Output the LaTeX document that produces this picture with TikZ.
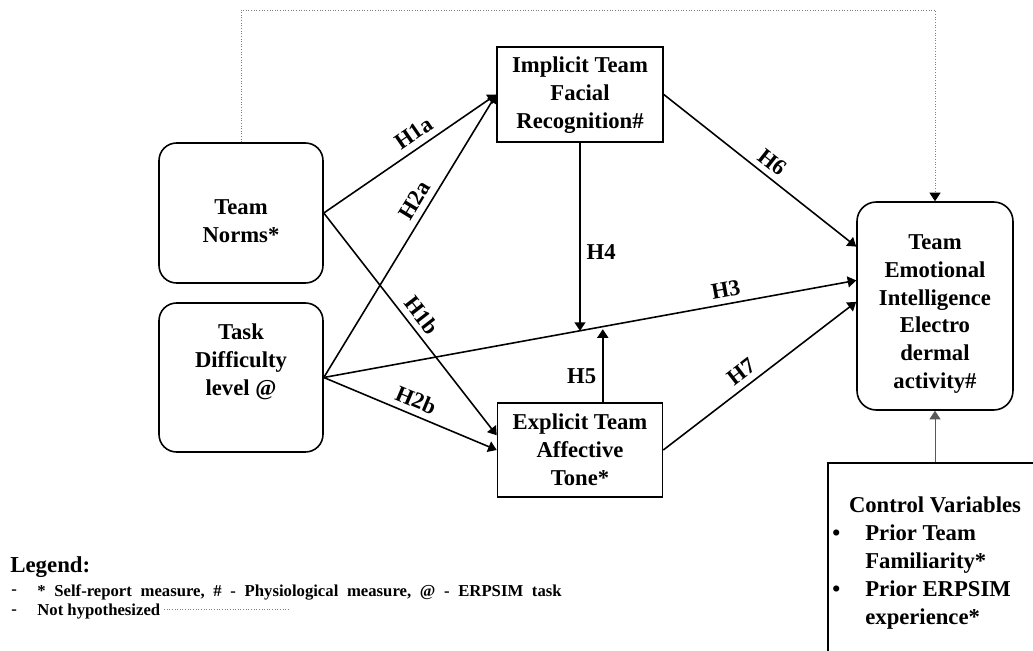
\documentclass[tikz,border=0pt]{standalone}
\usepackage{fontspec}
\setmainfont{Liberation Serif}
\usepackage{tikz}
\usetikzlibrary{arrows.meta, calc}

\begin{document}
\begin{tikzpicture}[
  box/.style={rectangle, draw, line width=0.9pt, inner sep=0pt},
  roundBox/.style={box, rounded corners=10pt},
  txt/.style={font=\bfseries\fontsize{12.9}{15.9}\selectfont, align=center},
  legendTxt/.style={font=\bfseries\fontsize{9.5}{11}\selectfont, anchor=west, inner sep=0pt},
  arrow/.style={-{Triangle[length=1.7mm, width=2.2mm]}, line width=0.9pt},
  hyp/.style={font=\bfseries\fontsize{12.9}{15.9}\selectfont, sloped, above, inner sep=3.5pt},
  nothyp/.style={densely dotted, gray, line width=0.5pt},
  ctrlArrow/.style={-{Triangle[length=1.7mm, width=2.2mm]}, gray!70!black, line width=0.5pt}
]
\useasboundingbox (0,0) rectangle (20.66,-13.02);
\clip (0,0) rectangle (20.66,-13.02);
% boxes
\node[roundBox, minimum width=3.28cm, minimum height=2.80cm] (norms) at (4.82,-4.26) {};
\node[roundBox, minimum width=3.28cm, minimum height=2.98cm] (task) at (4.82,-7.55) {};
\node[box, minimum width=3.32cm, minimum height=1.90cm] (impl) at (11.6,-1.89) {};
\node[box, minimum width=3.30cm, minimum height=1.88cm] (expl) at (11.6,-9.0) {};
\node[roundBox, rounded corners=11pt, minimum width=3.12cm, minimum height=4.16cm] (ei) at (18.7,-6.12) {};
\node[box, minimum width=4.28cm, minimum height=4.14cm] (ctrl) at (18.7,-11.33) {};
% box texts
\node[txt] (normsTxt) at (4.82,-4.42) {Team\\Norms*};
\node[txt] (taskTxt) at (4.82,-7.24) {Task\\Difficulty\\level @};
\node[txt] (implTxt) at (11.6,-1.9) {Implicit Team\\Facial\\Recognition\#};
\node[txt] (explTxt) at (11.6,-9.0) {Explicit Team\\Affective\\Tone*};
\node[txt] (eiTxt) at (18.7,-6.28) {Team\\Emotional\\Intelligence\\Electro\\dermal\\activity\#};
\node[txt] (ctrlTitle) at (18.7,-10.1) {Control Variables};
\node[txt, align=left, anchor=north west, inner sep=0pt] (ctrlList) at (16.64,-10.41)
  {\begin{tabular}{@{}p{0.66cm}@{}l@{}}\textbullet & Prior Team\\ & Familiarity*\\\textbullet & Prior ERPSIM\\ & experience*\end{tabular}};
% hypothesised paths
\draw[arrow] (norms.east) -- node[hyp, pos=0.57] {H1a} (impl.west);
\draw[arrow] (task.east) -- node[hyp, pos=0.6] {H2a} (impl.west);
\draw[arrow] (norms.east) -- node[hyp, pos=0.5] {H1b} (expl.170);
\draw[arrow] (task.east) -- node[hyp, pos=0.5] {H2b} (expl.west);
\draw[arrow] (task.east) -- node[hyp, pos=0.76] {H3} (ei.162);
\coordinate (m4) at ($(task.east)!0.481!(ei.162)$);
\coordinate (m5) at ($(task.east)!0.524!(ei.162)$);
\draw[arrow] (impl.south) -- node[txt, right, pos=0.58] {H4} (impl.south |- m4);
\draw[arrow, shorten >=1.5pt] (expl.north -| m5) -- node[txt, left, pos=0.35] {H5} (m5);
\draw[arrow] (impl.east) -- node[hyp, pos=0.52] {H6} (ei.143);
\draw[arrow] (expl.east) -- node[hyp, pos=0.45] {H7} (ei.177);
% not hypothesised
\coordinate (top) at (0,-0.2);
\draw[nothyp] (norms.north) -- (norms.north |- top) -| (ei.north);
\draw[-{Triangle[length=1.7mm, width=2.2mm]}, line width=0.5pt] ($(ei.north)+(0,0.05)$) -- (ei.north);
\draw[ctrlArrow] (ctrl.north) -- (ei.south);
% legend
\node[anchor=west, inner sep=0pt, font=\bfseries\fontsize{13}{15}\selectfont] (legTitle) at (0.2,-11.34) {Legend:};
\node[legendTxt] (legDash1) at (0.22,-11.84) {-};
\node[legendTxt] (legItem1) at (0.74,-11.84) {\spaceskip=0.52em *\ Self-report measure, \# - Physiological measure, @ - ERPSIM task};
\node[legendTxt] (legDash2) at (0.22,-12.24) {-};
\node[legendTxt] (legItem2) at (0.74,-12.24) {Not hypothesized};
\coordinate (legLineA) at (3.28,-12.18);
\coordinate (legLineB) at (5.76,-12.18);
\draw[nothyp] (legLineA) -- (legLineB);
\end{tikzpicture}
\end{document}
